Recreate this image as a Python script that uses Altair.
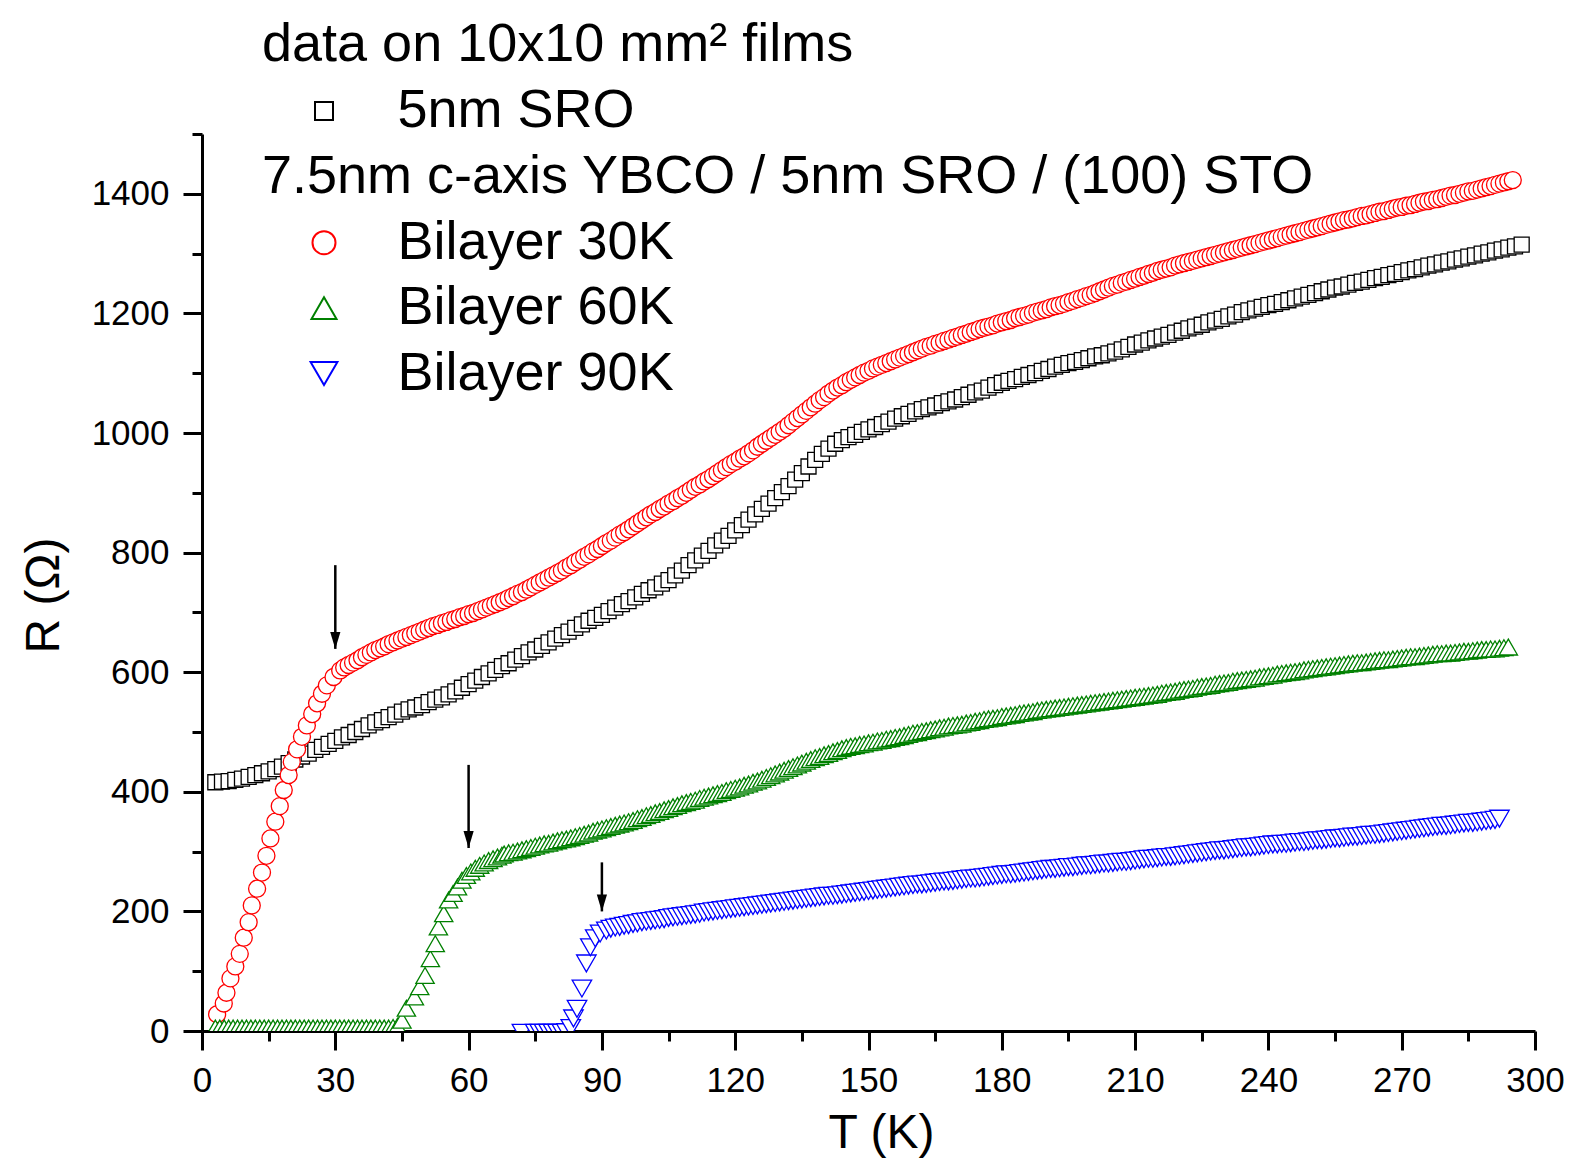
import altair as alt
import pandas as pd

FONT = "Liberation Sans"

# ---------------- data ----------------
sro_T = [3, 4.5, 6, 7.5, 9, 10.5, 12, 13.5, 15, 16.5,
         18, 19.5, 21, 22.5, 24, 25.5, 27, 28.5, 30, 31.5,
         33, 34.5, 36, 37.5, 39, 40.5, 42, 43.5, 45, 46.5,
         48, 49.5, 51, 52.5, 54, 55.5, 57, 58.5, 60, 61.5,
         63, 64.5, 66, 67.5, 69, 70.5, 72, 73.5, 75, 76.5,
         78, 79.5, 81, 82.5, 84, 85.5, 87, 88.5, 90, 91.5,
         93, 94.5, 96, 97.5, 99, 100.5, 102, 103.5, 105, 106.5,
         108, 109.5, 111, 112.5, 114, 115.5, 117, 118.5, 120, 121.5,
         123, 124.5, 126, 127.5, 129, 130.5, 132, 133.5, 135, 136.5,
         138, 139.5, 141, 142.5, 144, 145.5, 147, 148.5, 150, 151.5,
         153, 154.5, 156, 157.5, 159, 160.5, 162, 163.5, 165, 166.5,
         168, 169.5, 171, 172.5, 174, 175.5, 177, 178.5, 180, 181.5,
         183, 184.5, 186, 187.5, 189, 190.5, 192, 193.5, 195, 196.5,
         198, 199.5, 201, 202.5, 204, 205.5, 207, 208.5, 210, 211.5,
         213, 214.5, 216, 217.5, 219, 220.5, 222, 223.5, 225, 226.5,
         228, 229.5, 231, 232.5, 234, 235.5, 237, 238.5, 240, 241.5,
         243, 244.5, 246, 247.5, 249, 250.5, 252, 253.5, 255, 256.5,
         258, 259.5, 261, 262.5, 264, 265.5, 267, 268.5, 270, 271.5,
         273, 274.5, 276, 277.5, 279, 280.5, 282, 283.5, 285, 286.5,
         288, 289.5, 291, 292.5, 294, 295.5, 297]
sro_R = [416, 417, 418, 420, 422, 425, 428, 431, 434, 438,
         442, 448, 454, 459, 464, 470, 475, 480, 485, 491,
         495, 500, 505, 511, 516, 520, 525, 529, 534, 538,
         541, 545, 550, 554, 558, 563, 568, 574, 580, 586,
         592, 598, 604, 610, 615, 621, 627, 633, 638, 644,
         650, 656, 662, 668, 674, 680, 686, 691, 696, 702,
         708, 714, 719, 725, 731, 737, 742, 748, 754, 762,
         770, 779, 787, 795, 803, 812, 820, 828, 837, 846,
         855, 864, 873, 882, 891, 901, 911, 922, 933, 944,
         955, 965, 974, 982, 988, 993, 997, 1002, 1006, 1010,
         1015, 1019, 1024, 1028, 1032, 1036, 1040, 1043, 1046, 1050,
         1053, 1056, 1060, 1064, 1068, 1071, 1076, 1080, 1084, 1087,
         1090, 1094, 1097, 1100, 1104, 1107, 1111, 1114, 1117, 1119,
         1122, 1125, 1128, 1130, 1133, 1136, 1140, 1144, 1148, 1151,
         1155, 1158, 1161, 1164, 1168, 1171, 1175, 1178, 1181, 1185,
         1188, 1191, 1195, 1198, 1202, 1205, 1208, 1211, 1214, 1216,
         1219, 1222, 1225, 1228, 1231, 1234, 1237, 1240, 1243, 1245,
         1248, 1251, 1253, 1256, 1259, 1261, 1264, 1266, 1269, 1272,
         1274, 1277, 1280, 1282, 1285, 1287, 1290, 1292, 1295, 1297,
         1300, 1302, 1305, 1307, 1310, 1312, 1315]

b30_T = [3.4, 4.9, 5.5, 6.4, 7.5, 8.5, 9.4, 10.5, 11.2, 12.4,
         13.5, 14.5, 15.4, 16.5, 17.5, 18.4, 19.5, 20.2, 21.4, 22.5,
         23.6, 24.8, 25.9, 27.0, 28.1, 29.6, 31.1,
         32, 33, 34, 35, 36, 37, 38, 39, 40, 41,
         42, 43, 44, 45, 46, 47, 48, 49, 50, 51,
         52, 53, 54, 55, 56, 57, 58, 59, 60, 61,
         62, 63, 64, 65, 66, 67, 68, 69, 70, 71,
         72, 73, 74, 75, 76, 77, 78, 79, 80, 81,
         82, 83, 84, 85, 86, 87, 88, 89, 90, 91,
         92, 93, 94, 95, 96, 97, 98, 99, 100, 101,
         102, 103, 104, 105, 106, 107, 108, 109, 110, 111,
         112, 113, 114, 115, 116, 117, 118, 119, 120, 121,
         122, 123, 124, 125, 126, 127, 128, 129, 130, 131,
         132, 133, 134, 135, 136, 137, 138, 139, 140, 141,
         142, 143, 144, 145, 146, 147, 148, 149, 150, 151,
         152, 153, 154, 155, 156, 157, 158, 159, 160, 161,
         162, 163, 164, 165, 166, 167, 168, 169, 170, 171,
         172, 173, 174, 175, 176, 177, 178, 179, 180, 181,
         182, 183, 184, 185, 186, 187, 188, 189, 190, 191,
         192, 193, 194, 195, 196, 197, 198, 199, 200, 201,
         202, 203, 204, 205, 206, 207, 208, 209, 210, 211,
         212, 213, 214, 215, 216, 217, 218, 219, 220, 221,
         222, 223, 224, 225, 226, 227, 228, 229, 230, 231,
         232, 233, 234, 235, 236, 237, 238, 239, 240, 241,
         242, 243, 244, 245, 246, 247, 248, 249, 250, 251,
         252, 253, 254, 255, 256, 257, 258, 259, 260, 261,
         262, 263, 264, 265, 266, 267, 268, 269, 270, 271,
         272, 273, 274, 275, 276, 277, 278, 279, 280, 281,
         282, 283, 284, 285, 286, 287, 288, 289, 290, 291,
         292, 293, 294, 295]
b30_R = [28, 46, 64, 88, 108, 129, 156, 182, 210, 238,
         265, 293, 322, 350, 376, 403, 428, 450, 471, 492,
         511, 530, 548, 564, 578, 592, 603,
         608, 612, 616, 620, 625, 629, 633, 637, 640, 643,
         647, 650, 653, 656, 659, 662, 665, 668, 671, 674,
         677, 679, 682, 684, 687, 689, 692, 694, 697, 699,
         702, 705, 708, 711, 714, 717, 720, 724, 727, 731,
         734, 738, 742, 746, 750, 754, 758, 762, 766, 770,
         775, 779, 784, 788, 793, 797, 802, 806, 811, 816,
         820, 825, 830, 834, 839, 844, 849, 854, 859, 864,
         868, 873, 877, 882, 886, 891, 895, 900, 905, 910,
         914, 919, 923, 928, 933, 938, 943, 948, 952, 957,
         961, 966, 971, 977, 982, 987, 992, 997, 1002, 1007,
         1013, 1019, 1025, 1031, 1037, 1043, 1049, 1055, 1060, 1066,
         1071, 1076, 1080, 1085, 1089, 1093, 1097, 1101, 1104, 1108,
         1111, 1114, 1117, 1120, 1123, 1126, 1129, 1132, 1135, 1138,
         1141, 1144, 1146, 1149, 1151, 1154, 1156, 1159, 1161, 1164,
         1166, 1169, 1171, 1174, 1176, 1178, 1180, 1183, 1185, 1187,
         1189, 1192, 1194, 1196, 1198, 1201, 1203, 1205, 1207, 1210,
         1212, 1214, 1216, 1219, 1221, 1224, 1226, 1229, 1231, 1234,
         1237, 1240, 1243, 1246, 1248, 1251, 1253, 1256, 1258, 1261,
         1263, 1266, 1268, 1271, 1273, 1275, 1277, 1280, 1282, 1284,
         1286, 1288, 1290, 1292, 1294, 1296, 1298, 1300, 1302, 1304,
         1306, 1308, 1310, 1312, 1314, 1316, 1318, 1320, 1322, 1324,
         1326, 1328, 1330, 1332, 1334, 1336, 1338, 1340, 1342, 1344,
         1346, 1348, 1350, 1352, 1354, 1356, 1357, 1359, 1361, 1363,
         1364, 1366, 1368, 1370, 1371, 1373, 1375, 1377, 1378, 1380,
         1381, 1383, 1385, 1387, 1388, 1390, 1391, 1393, 1395, 1397,
         1398, 1400, 1402, 1404, 1405, 1407, 1409, 1411, 1413, 1415,
         1417, 1419, 1421, 1423]

b60_T = [3, 4, 5, 6, 7, 8, 9, 10, 11, 12,
         13, 14, 15, 16, 17, 18, 19, 20, 21, 22,
         23, 24, 25, 26, 27, 28, 29, 30, 31, 32,
         33, 34, 35, 36, 37, 38, 39, 40, 41, 42,
         43, 44,
         45, 46, 47.8, 49, 50.2, 51.4, 52.5, 53.2, 54.4, 55.5,
         56.5, 57.5, 58.5, 59.5, 60.5, 61.5, 62.5, 63.5, 64.5, 65.5,
         66.5, 67.5,
         68, 69, 70, 71, 72, 73, 74, 75, 76, 77,
         78, 79, 80, 81, 82, 83, 84, 85, 86, 87,
         88, 89, 90, 91, 92, 93, 94, 95, 96, 97,
         98, 99, 100, 101, 102, 103, 104, 105, 106, 107,
         108, 109, 110, 111, 112, 113, 114, 115, 116, 117,
         118, 119, 120, 121, 122, 123, 124, 125, 126, 127,
         128, 129, 130, 131, 132, 133, 134, 135, 136, 137,
         138, 139, 140, 141, 142, 143, 144, 145, 146, 147,
         148, 149, 150, 151, 152, 153, 154, 155, 156, 157,
         158, 159, 160, 161, 162, 163, 164, 165, 166, 167,
         168, 169, 170, 171, 172, 173, 174, 175, 176, 177,
         178, 179, 180, 181, 182, 183, 184, 185, 186, 187,
         188, 189, 190, 191, 192, 193, 194, 195, 196, 197,
         198, 199, 200, 201, 202, 203, 204, 205, 206, 207,
         208, 209, 210, 211, 212, 213, 214, 215, 216, 217,
         218, 219, 220, 221, 222, 223, 224, 225, 226, 227,
         228, 229, 230, 231, 232, 233, 234, 235, 236, 237,
         238, 239, 240, 241, 242, 243, 244, 245, 246, 247,
         248, 249, 250, 251, 252, 253, 254, 255, 256, 257,
         258, 259, 260, 261, 262, 263, 264, 265, 266, 267,
         268, 269, 270, 271, 272, 273, 274, 275, 276, 277,
         278, 279, 280, 281, 282, 283, 284, 285, 286, 287,
         288, 289, 290, 291, 292, 293, 294]
b60_R = [5, 5, 5, 5, 5, 5, 5, 5, 5, 5,
         5, 5, 5, 5, 5, 5, 5, 5, 5, 5,
         5, 5, 5, 5, 5, 5, 5, 5, 5, 5,
         5, 5, 5, 5, 5, 5, 5, 5, 5, 5,
         6, 8,
         18, 38, 57, 74, 93, 121, 146, 174, 196, 219,
         230, 241, 252, 260, 266, 272, 277, 281, 285, 288,
         291, 294,
         296, 298, 299, 301, 303, 305, 307, 309, 311, 313,
         314, 316, 318, 320, 321, 323, 325, 327, 329, 331,
         334, 336, 338, 340, 342, 344, 346, 348, 350, 352,
         355, 357, 360, 362, 365, 367, 370, 372, 375, 377,
         380, 382, 384, 386, 389, 391, 393, 395, 397, 399,
         402, 404, 406, 408, 411, 413, 416, 418, 421, 424,
         427, 430, 433, 436, 439, 442, 445, 448, 451, 454,
         457, 459, 462, 464, 467, 469, 472, 474, 476, 477,
         479, 480, 482, 483, 485, 486, 488, 489, 491, 492,
         494, 496, 498, 499, 501, 502, 504, 505, 507, 508,
         510, 511, 512, 513, 515, 516, 518, 519, 521, 522,
         523, 524, 526, 527, 528, 529, 531, 532, 533, 534,
         536, 537, 538, 539, 540, 541, 542, 543, 544, 545,
         546, 547, 548, 549, 550, 551, 552, 553, 554, 555,
         556, 557, 558, 559, 560, 561, 562, 563, 565, 566,
         567, 568, 570, 571, 572, 573, 575, 576, 577, 578,
         580, 581, 582, 583, 585, 586, 587, 588, 589, 590,
         592, 593, 594, 595, 597, 598, 599, 600, 601, 602,
         604, 605, 606, 607, 608, 609, 610, 611, 612, 613,
         614, 615, 616, 616, 617, 618, 619, 620, 621, 621,
         622, 623, 624, 625, 626, 626, 627, 628, 629, 630,
         631, 631, 632, 632, 633, 634, 635, 635, 636, 637,
         638, 638, 639, 639, 640, 641, 642]

b90_T = [72, 75, 76, 77, 78, 79, 80, 81, 82,
         83, 83.6, 84.4, 85.5, 86.5, 87.4, 88.5, 89.6, 91, 92,
         93, 94, 95, 96, 97, 98, 99, 100, 101, 102,
         103, 104, 105, 106, 107, 108, 109, 110, 111, 112,
         113, 114, 115, 116, 117, 118, 119, 120, 121, 122,
         123, 124, 125, 126, 127, 128, 129, 130, 131, 132,
         133, 134, 135, 136, 137, 138, 139, 140, 141, 142,
         143, 144, 145, 146, 147, 148, 149, 150, 151, 152,
         153, 154, 155, 156, 157, 158, 159, 160, 161, 162,
         163, 164, 165, 166, 167, 168, 169, 170, 171, 172,
         173, 174, 175, 176, 177, 178, 179, 180, 181, 182,
         183, 184, 185, 186, 187, 188, 189, 190, 191, 192,
         193, 194, 195, 196, 197, 198, 199, 200, 201, 202,
         203, 204, 205, 206, 207, 208, 209, 210, 211, 212,
         213, 214, 215, 216, 217, 218, 219, 220, 221, 222,
         223, 224, 225, 226, 227, 228, 229, 230, 231, 232,
         233, 234, 235, 236, 237, 238, 239, 240, 241, 242,
         243, 244, 245, 246, 247, 248, 249, 250, 251, 252,
         253, 254, 255, 256, 257, 258, 259, 260, 261, 262,
         263, 264, 265, 266, 267, 268, 269, 270, 271, 272,
         273, 274, 275, 276, 277, 278, 279, 280, 281, 282,
         283, 284, 285, 286, 287, 288, 289, 290, 291, 292]
b90_R = [-3, -3, -3, -3, -3, -3, -3, -3, -2,
         5, 21, 37, 71, 113, 140, 155, 163, 168, 171,
         173, 174, 176, 177, 179, 180, 182, 183, 184, 185,
         186, 187, 189, 190, 191, 192, 193, 194, 195, 196,
         198, 199, 200, 201, 202, 203, 204, 205, 206, 207,
         208, 209, 210, 211, 212, 213, 214, 215, 216, 217,
         218, 219, 220, 221, 222, 223, 224, 225, 226, 226,
         227, 228, 229, 230, 231, 232, 233, 234, 235, 236,
         237, 238, 239, 240, 241, 242, 243, 244, 245, 245,
         246, 247, 248, 249, 250, 250, 251, 252, 253, 254,
         255, 255, 256, 257, 258, 259, 260, 261, 262, 262,
         263, 264, 265, 266, 267, 268, 269, 270, 271, 271,
         272, 273, 274, 274, 275, 276, 277, 277, 278, 279,
         280, 280, 281, 282, 283, 283, 284, 285, 286, 287,
         288, 288, 289, 290, 291, 291, 292, 293, 294, 295,
         296, 297, 298, 299, 300, 301, 302, 302, 303, 304,
         305, 306, 307, 307, 308, 309, 310, 311, 312, 312,
         313, 313, 314, 315, 316, 316, 317, 318, 319, 319,
         320, 321, 322, 322, 323, 324, 325, 325, 326, 327,
         328, 328, 329, 330, 331, 332, 333, 334, 335, 336,
         337, 338, 339, 340, 341, 342, 343, 343, 344, 345,
         346, 347, 348, 348, 349, 350, 351, 352, 353, 355]

arrow_T = [30, 60, 90]
arrow_top = [779, 445, 282]
arrow_tip = [639, 306, 200]

x_major = [0, 30, 60, 90, 120, 150, 180, 210, 240, 270, 300]
x_minor = [15, 45, 75, 105, 135, 165, 195, 225, 255, 285]
y_major = [0, 200, 400, 600, 800, 1000, 1200, 1400]
y_minor = [100, 300, 500, 700, 900, 1100, 1300, 1500]

sro_name = "5nm SRO"
bilayer_names = ["Bilayer 30K", "Bilayer 60K", "Bilayer 90K"]
bilayer_colors = ["#ff0000", "#008000", "#0000ff"]
bilayer_shapes = ["circle", "triangle-up", "triangle-down"]
legend1_title = "data on 10x10 mm\u00b2 films"
legend2_title = "7.5nm c-axis YBCO / 5nm SRO / (100) STO"

# ---------------- tables ----------------
sro_df = pd.DataFrame({"T": sro_T, "R": sro_R, "series": sro_name})
bil_df = pd.concat([
    pd.DataFrame({"T": b30_T, "R": b30_R, "series": bilayer_names[0]}),
    pd.DataFrame({"T": b60_T, "R": b60_R, "series": bilayer_names[1]}),
    pd.DataFrame({"T": b90_T, "R": b90_R, "series": bilayer_names[2]}),
], ignore_index=True)
arrow_df = pd.DataFrame({"T": arrow_T, "top": arrow_top, "tip": arrow_tip})

xscale = alt.Scale(domain=[0, 300], nice=False, zero=False)
yscale = alt.Scale(domain=[0, 1500], nice=False, zero=False)

x_axis_major = alt.Axis(values=x_major, orient="bottom", tickSize=19, tickWidth=3,
                        domainWidth=3, labelFontSize=35, labelPadding=13,
                        labelFlush=False, labelOverlap=False, format="d",
                        title="T (K)", titleFontSize=48, titleX=679, titleY=116.5,
                        titleAlign="center", titleBaseline="alphabetic")
y_axis_major = alt.Axis(values=y_major, orient="left", tickSize=19, tickWidth=3,
                        domainWidth=3, labelFontSize=35, labelPadding=14,
                        labelOverlap=False, format="d",
                        title="R (\u03a9)", titleFontSize=48, titleX=-143.6, titleY=461,
                        titleAngle=270, titleAlign="center", titleBaseline="alphabetic")
x_axis_minor = alt.Axis(values=x_minor, orient="bottom", tickSize=10, tickWidth=3,
                        domain=False, labels=False, title=None)
y_axis_minor = alt.Axis(values=y_minor, orient="left", tickSize=10, tickWidth=3,
                        domain=False, labels=False, title=None)


def make_legend(y, symsize):
    return alt.Legend(orient="none", legendX=60, legendY=y, padding=0,
                      titleFont=FONT, titleFontSize=54, titleFontWeight="normal",
                      titleColor="black", titleLimit=3000, titlePadding=12,
                      labelFont=FONT, labelFontSize=54, labelColor="black",
                      labelLimit=3000, labelOffset=46.5, symbolOffset=35,
                      symbolSize=symsize, symbolStrokeWidth=2,
                      symbolFillColor="white", rowPadding=11.4)


legend1 = make_legend(-116, 324)
legend2 = make_legend(15.7, 560)

# ---------------- plotted data (no legends) ----------------
sro_layer = alt.Chart(sro_df).mark_point(
    shape="square", size=225, fill="white", strokeWidth=1.3, opacity=1
).encode(
    x=alt.X("T:Q", scale=xscale, axis=x_axis_major),
    y=alt.Y("R:Q", scale=yscale, axis=y_axis_major),
    color=alt.Color("series:N", scale=alt.Scale(domain=[sro_name], range=["#000000"]),
                    legend=None),
)

bil_layer = alt.Chart(bil_df).mark_point(
    fill="white", strokeWidth=1.3, opacity=1, clip=True
).encode(
    x=alt.X("T:Q", scale=xscale, axis=None),
    y=alt.Y("R:Q", scale=yscale, axis=None),
    color=alt.Color("series:N", scale=alt.Scale(domain=bilayer_names, range=bilayer_colors),
                    legend=None),
    shape=alt.Shape("series:N", scale=alt.Scale(domain=bilayer_names, range=bilayer_shapes),
                    legend=None),
    size=alt.Size("series:O", scale=alt.Scale(domain=bilayer_names, range=[289, 380, 380]),
                  legend=None),
)

shaft = alt.Chart(arrow_df).mark_rule(color="black", strokeWidth=2.5).encode(
    x=alt.X("T:Q", scale=xscale, axis=x_axis_minor),
    y=alt.Y("top:Q", scale=yscale, axis=y_axis_minor),
    y2="tip:Q",
)

head = alt.Chart(arrow_df).mark_point(
    shape="M0,0L-0.3,-1L0.3,-1Z", size=1156, filled=True, color="black", opacity=1
).encode(
    x=alt.X("T:Q", scale=xscale, axis=None),
    y=alt.Y("tip:Q", scale=yscale, axis=None),
)

# ---------------- legend layers (no drawn items, only legends) ----------------
leg1_layer = alt.Chart(sro_df).transform_filter("false").mark_point(
    size=324, fill="white", strokeWidth=2, opacity=1
).encode(
    color=alt.Color("series:N", title=legend1_title,
                    scale=alt.Scale(domain=[sro_name], range=["#000000"]), legend=legend1),
    shape=alt.Shape("series:N", title=legend1_title,
                    scale=alt.Scale(domain=[sro_name], range=["square"]), legend=legend1),
)

leg2_layer = alt.Chart(bil_df).transform_filter("false").mark_point(
    fill="white", strokeWidth=2, opacity=1
).encode(
    color=alt.Color("series:N", title=legend2_title,
                    scale=alt.Scale(domain=bilayer_names, range=bilayer_colors),
                    legend=legend2),
    shape=alt.Shape("series:N", title=legend2_title,
                    scale=alt.Scale(domain=bilayer_names, range=bilayer_shapes),
                    legend=legend2),
    size=alt.Size("series:O", scale=alt.Scale(domain=bilayer_names, range=[530, 720, 720]),
                  legend=None),
)

chart = alt.layer(sro_layer, bil_layer, shaft, head, leg1_layer, leg2_layer).resolve_scale(
    color="independent", shape="independent", size="independent"
).resolve_axis(
    x="independent", y="independent"
).resolve_legend(
    color="independent", shape="independent"
).properties(
    width=1333, height=897,
    padding={"left": 202, "top": 134, "right": 42, "bottom": 128},
    autosize=alt.AutoSizeParams(type="none"),
    background="white",
).configure_view(
    stroke="transparent"
).configure_axis(
    grid=False, domainColor="black", tickColor="black", labelColor="black",
    titleColor="black", labelFont=FONT, titleFont=FONT, titleFontWeight="normal"
)

chart.save("out.html", embed_options={"renderer": "svg", "actions": False})
